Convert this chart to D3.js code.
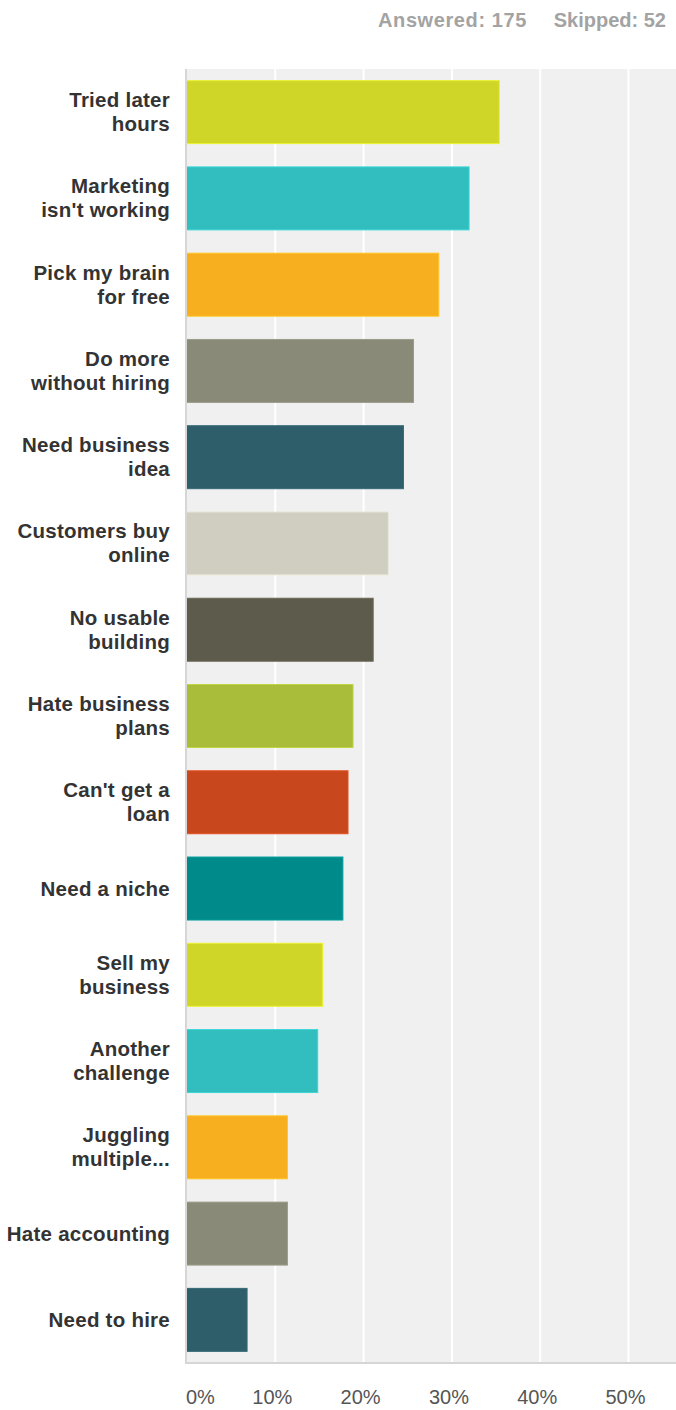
<!DOCTYPE html>
<html lang="en">
<head>
  <meta charset="UTF-8" />
  <title>Survey challenges</title>
  <script src="https://d3js.org/d3.v7.min.js"></script>
  <style>
    html, body {
      margin: 0;
      padding: 0;
      background: #fff;
      overflow: hidden;
    }
    svg {
      display: block;
      font-family: 'Liberation Sans', Arial, sans-serif;
    }
  </style>
</head>
<body>
  <svg id="chart" width="676" height="1410"></svg>

  <script>
    // answer labels, line breaks as shown on the chart
    const categories = [
      "Tried later\nhours",
      "Marketing\nisn't working",
      "Pick my brain\nfor free",
      "Do more\nwithout hiring",
      "Need business\nidea",
      "Customers buy\nonline",
      "No usable\nbuilding",
      "Hate business\nplans",
      "Can't get a\nloan",
      "Need a niche",
      "Sell my\nbusiness",
      "Another\nchallenge",
      "Juggling\nmultiple...",
      "Hate accounting",
      "Need to hire"
    ];
    // share of the 175 respondents
    const values = [0.3543, 0.32, 0.2857, 0.2571, 0.2457, 0.2286, 0.2114, 0.1886,
                    0.1829, 0.1771, 0.1543, 0.1486, 0.1143, 0.1143, 0.0686];
    const barColors = ["#cfd628", "#32bdbe", "#f7ae1f", "#898a78", "#2e5e6a",
                       "#cfcec0", "#5d5b4b", "#a9bd3a", "#c8471c", "#008b8a",
                       "#cfd628", "#32bdbe", "#f7ae1f", "#898a78", "#2e5e6a"];
    const xTicks = [0, 0.1, 0.2, 0.3, 0.4, 0.5];
    const answered = 175;
    const skipped = 52;

    const svg = d3.select("#chart");
    const W = 676;
    const plotTop = 69, plotBottom = 1363;

    const x = d3.scaleLinear().domain([0, 0.5]).range([186.5, 628]);
    const y = d3.scaleBand()
      .domain(categories)
      .range([plotTop, plotBottom])
      .paddingInner(0.27)
      .paddingOuter(0.135);

    // header
    svg.append("text")
      .attr("x", 666).attr("y", 27)
      .attr("text-anchor", "end")
      .style("font-size", "20px").style("font-weight", "bold")
      .style("fill", "#a3a3a3")
      .text(`Skipped: ${skipped}`);
    svg.append("text")
      .attr("x", 527).attr("y", 27)
      .attr("text-anchor", "end")
      .style("font-size", "20px").style("font-weight", "bold")
      .style("letter-spacing", "0.6px")
      .style("fill", "#a3a3a3")
      .text(`Answered: ${answered}`);

    // plot background
    svg.append("rect")
      .attr("x", x(0) - 0.5).attr("y", plotTop)
      .attr("width", W - x(0) + 0.5).attr("height", plotBottom - plotTop)
      .attr("fill", "#f0f0f0");

    // gridlines
    const grid = svg.append("g")
      .attr("transform", `translate(0,${plotBottom})`)
      .call(d3.axisBottom(x).tickValues(xTicks.slice(1)).tickSize(-(plotBottom - plotTop)).tickFormat(""));
    grid.select(".domain").remove();
    grid.selectAll("line").attr("stroke", "#fff").attr("stroke-width", 2);

    // bars
    svg.append("g")
      .selectAll("rect")
      .data(categories)
      .join("rect")
      .attr("x", x(0))
      .attr("y", d => y(d))
      .attr("width", (d, i) => x(values[i]) - x(0))
      .attr("height", y.bandwidth())
      .attr("fill", (d, i) => barColors[i])
      .attr("stroke", (d, i) => d3.color(barColors[i]).brighter(0.35))
      .attr("stroke-width", 1);

    // axis lines
    svg.append("line")
      .attr("x1", x(0) - 0.5).attr("x2", x(0) - 0.5)
      .attr("y1", plotTop).attr("y2", plotBottom + 1)
      .attr("stroke", "#d6d6d6").attr("stroke-width", 2);
    svg.append("line")
      .attr("x1", x(0) - 1.5).attr("x2", W)
      .attr("y1", plotBottom).attr("y2", plotBottom)
      .attr("stroke", "#d6d6d6").attr("stroke-width", 2);

    // category labels
    const yAxis = svg.append("g")
      .attr("transform", `translate(${x(0)},0)`)
      .call(d3.axisLeft(y).tickSize(0).tickPadding(16));
    yAxis.select(".domain").remove();
    yAxis.selectAll("text")
      .style("font-size", "20.5px")
      .style("font-weight", "bold")
      .style("letter-spacing", "0.25px")
      .style("fill", "#333")
      .attr("dy", null)
      .each(function(d) {
        const lines = d.split("\n");
        const t = d3.select(this).text(null);
        const first = lines.length === 1 ? 7 : -5;
        lines.forEach((line, k) => {
          t.append("tspan")
            .attr("x", -16.5)
            .attr("y", first + k * 24)
            .text(line);
        });
      });

    // percent ticks
    const xAxis = svg.append("g")
      .attr("transform", `translate(0,${plotBottom})`)
      .call(d3.axisBottom(x).tickValues(xTicks).tickSize(0).tickFormat(d3.format(".0%")));
    xAxis.select(".domain").remove();
    xAxis.selectAll("text")
      .attr("y", 41).attr("dy", 0).attr("dx", -3)
      .style("font-size", "20px")
      .style("fill", "#555");
    xAxis.selectAll("text").filter(d => d === 0)
      .attr("text-anchor", "start").attr("dx", -1);
  </script>
</body>
</html>
